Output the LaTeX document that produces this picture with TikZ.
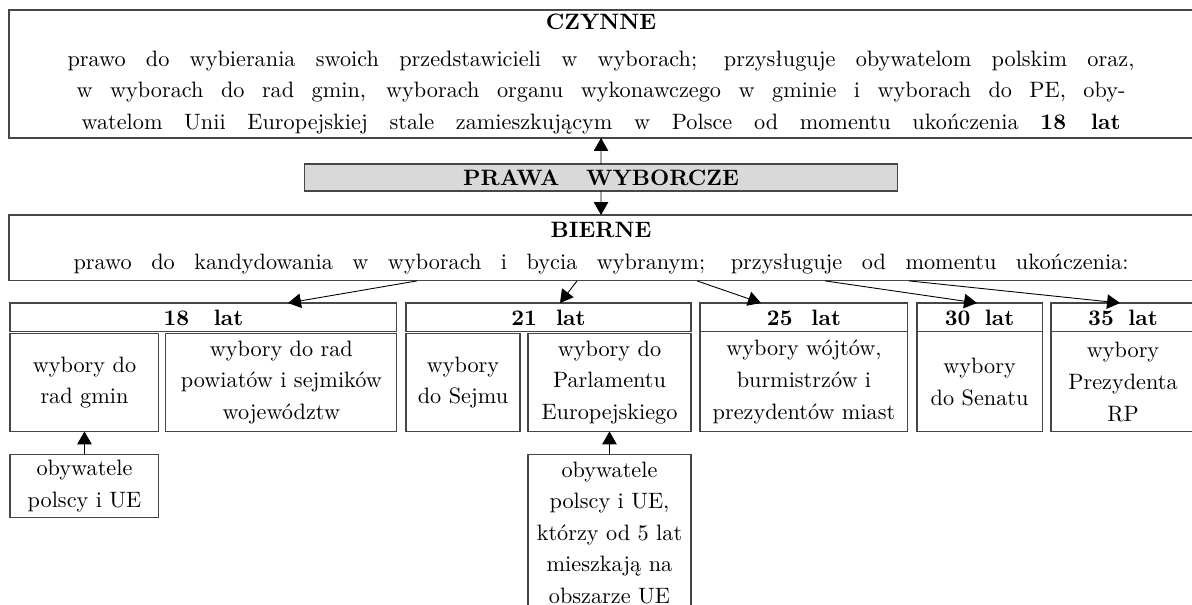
\documentclass[tikz,border=0pt]{standalone}
\usepackage{fontspec}
\usepackage{tikz}
\usetikzlibrary{positioning,arrows.meta,calc}
\definecolor{frame}{RGB}{70,70,70}
\definecolor{shade}{RGB}{217,217,217}
\newcommand{\rozstaw}[2]{\makebox[#1][s]{#2}}

\begin{document}
\begin{tikzpicture}[x=0.4492pt,y=-0.4492pt,>={Triangle[length=5.8pt,width=6.5pt]},
    box/.style={draw=frame,line width=0.5pt,align=center,inner sep=0pt,outer sep=0pt,
      font=\fontsize{10}{14.2}\selectfont},
    head/.style={box,font=\fontsize{10}{14.2}\selectfont\bfseries,minimum height=13pt},
    cell/.style={box,minimum height=44pt}]
  \useasboundingbox (0,0) rectangle (1192,605);
  \node[box,anchor=north west,minimum width=531.9pt,minimum height=57.5pt] (czynne) at (9,10)
    {\textbf{CZYNNE}\\[2.4pt]
     \rozstaw{479.3pt}{prawo do wybierania swoich przedstawicieli w wyborach; przysługuje obywatelom polskim oraz,}\\
     \rozstaw{471.2pt}{w wyborach do rad gmin, wyborach organu wykonawczego w gminie i wyborach do PE, oby-}\\
     \rozstaw{466.7pt}{watelom Unii Europejskiej stale zamieszkującym w Polsce od momentu ukończenia \textbf{18 lat}}};
  \node[head,fill=shade,minimum width=266.4pt,minimum height=12.1pt] (prawa) at (601,177.5)
    {PRAWA\hspace{12pt}WYBORCZE};
  \node[box,anchor=north west,minimum width=531.9pt,minimum height=29.6pt] (bierne) at (9,215)
    {\textbf{BIERNE}\\
     \rozstaw{473.9pt}{prawo do kandydowania w wyborach i bycia wybranym; przysługuje od momentu ukończenia:}};
  \draw[->] (prawa.north) -- (czynne.south);
  \draw[->] (prawa.south) -- (bierne.north);
  % 18 lat
  \node[head,anchor=north west,minimum width=173.8pt] (l18) at (10,303) {18\hspace{11pt}lat};
  \node[cell,minimum width=66.9pt,below=0.7pt of l18.south west,anchor=north west] (gmin)
    {wybory do\\rad gmin};
  \node[cell,minimum width=103.8pt,below=0.7pt of l18.south east,anchor=north east] (powiat)
    {wybory do rad\\powiatów i sejmików\\województw};
  % 21 lat
  \node[head,anchor=north west,minimum width=128pt] (l21) at (406,303) {21\hspace{8.6pt}lat};
  \node[cell,minimum width=51.2pt,below=0.7pt of l21.south west,anchor=north west] (sejm)
    {wybory\\do Sejmu};
  \node[cell,minimum width=73.2pt,below=0.7pt of l21.south east,anchor=north east] (pe)
    {wybory do\\Parlamentu\\Europejskiego};
  % 25, 30, 35 lat
  \node[head,anchor=north west,minimum width=93.4pt] (l25) at (700,303) {25\hspace{8.5pt}lat};
  \node[cell,minimum width=93.4pt,minimum height=44.9pt,below=0pt of l25] (wojt)
    {wybory wójtów,\\burmistrzów i\\prezydentów miast};
  \node[head,anchor=north west,minimum width=56.2pt] (l30) at (917,303) {30\hspace{6.5pt}lat};
  \node[cell,minimum width=56.2pt,minimum height=44.9pt,below=0pt of l30] (senat)
    {wybory\\do Senatu};
  \node[head,anchor=north west,minimum width=64.7pt] (l35) at (1051,303) {35\hspace{6.5pt}lat};
  \node[cell,minimum width=64.7pt,minimum height=44.9pt,below=0pt of l35] (prez)
    {wybory\\Prezydenta\\RP};
  % kto moze kandydowac
  \node[box,minimum width=66.9pt,minimum height=28.3pt,below=10.3pt of gmin] (ob18)
    {obywatele\\polscy i UE};
  \node[box,minimum width=73.2pt,minimum height=70.5pt,below=10.3pt of pe] (ob21)
    {obywatele\\polscy i UE,\\którzy od 5 lat\\mieszkają na\\obszarze UE};
  \draw[->] ($(bierne.south west)+(408,0)$) -- ($(l18.north west)+(278,0)$);
  \draw[->] ($(bierne.south west)+(568,0)$) -- ($(l21.north west)+(154,0)$);
  \draw[->] ($(bierne.south west)+(688,0)$) -- ($(l25.north west)+(61,0)$);
  \draw[->] ($(bierne.south west)+(816,0)$) -- ($(l30.north west)+(60,0)$);
  \draw[->] ($(bierne.south west)+(900,0)$) -- ($(l35.north west)+(69,0)$);
  \draw[->] (ob18) -- (gmin);
  \draw[->] (ob21) -- (pe);
\end{tikzpicture}
\end{document}
